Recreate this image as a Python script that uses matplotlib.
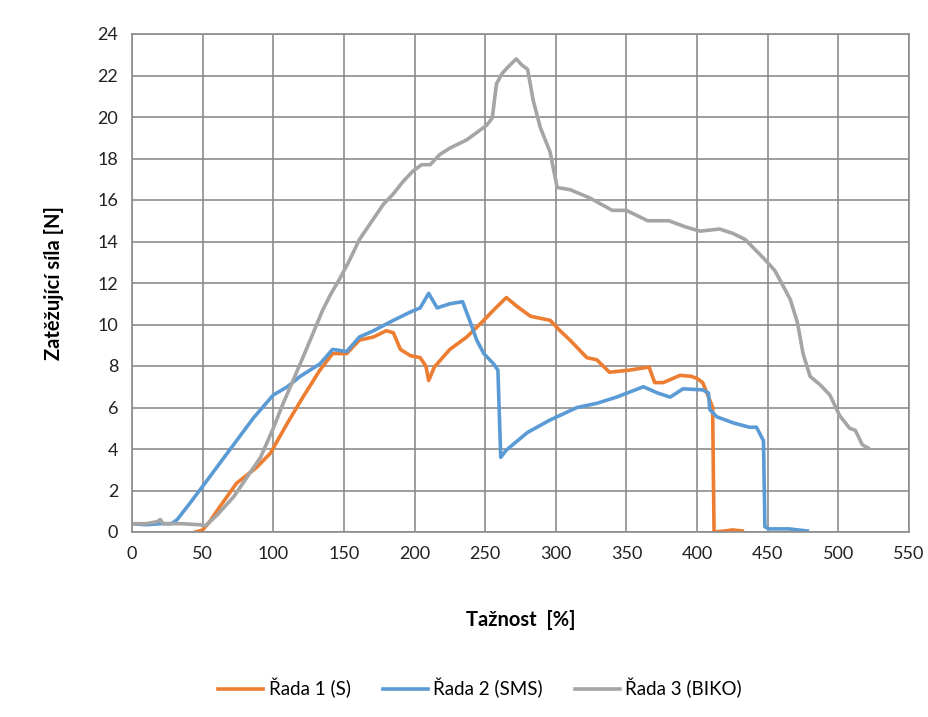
import matplotlib
matplotlib.use("Agg")
import matplotlib.pyplot as plt

plt.rcParams['font.family'] = ['Lato', 'DejaVu Sans']

# Řada 1 (S)
s_x = [45, 50, 55, 62, 74, 88, 98, 110, 121, 133, 142, 152, 161, 171, 180, 185, 190, 197, 204, 208, 210,
       214, 225, 237, 249, 256, 265, 272, 282, 296, 303, 310, 322, 329, 338, 352, 366, 370, 376, 388, 396,
       400, 404, 409, 411, 412, 420, 425, 432]
s_y = [0.0, 0.1, 0.5, 1.2, 2.35, 3.1, 3.8, 5.25, 6.5, 7.8, 8.6, 8.6, 9.25, 9.4, 9.7, 9.6, 8.8, 8.5, 8.4, 8.0, 7.3,
       7.95, 8.8, 9.4, 10.2, 10.7, 11.3, 10.9, 10.4, 10.2, 9.7, 9.25, 8.4, 8.3, 7.7, 7.8, 7.95, 7.2, 7.2, 7.55, 7.5,
       7.4, 7.2, 6.35, 6.0, 0.0, 0.05, 0.1, 0.05]

# Řada 2 (SMS)
sms_x = [0, 10, 20, 28, 32, 40, 50, 62, 74, 86, 100, 110, 119, 133, 142, 152, 161, 171, 185, 197, 204, 210,
         216, 225, 234, 239, 244, 249, 256, 259, 261, 265, 280, 296, 315, 329, 343, 362, 372, 381, 390, 404,
         408, 409, 414, 426, 437, 442, 447, 448, 451, 465, 478]
sms_y = [0.4, 0.35, 0.4, 0.4, 0.6, 1.3, 2.2, 3.3, 4.4, 5.5, 6.6, 7.0, 7.5, 8.1, 8.8, 8.7, 9.4, 9.7, 10.2, 10.6, 10.8, 11.5,
         10.8, 11.0, 11.1, 10.2, 9.25, 8.6, 8.1, 7.8, 3.6, 3.95, 4.8, 5.4, 6.0, 6.2, 6.5, 7.0, 6.7, 6.5, 6.9, 6.85,
         6.7, 5.9, 5.55, 5.25, 5.05, 5.05, 4.4, 0.25, 0.15, 0.15, 0.05]

# Řada 3 (BIKO)
biko_x = [0, 10, 18, 20, 22, 35, 48, 52, 60, 72, 80, 91, 100, 107, 114, 124, 135, 141, 147, 154, 161, 170,
          178, 185, 192, 199, 205, 211, 218, 225, 237, 245, 251, 255, 258, 262, 266, 272, 276, 280, 284, 289,
          296, 298, 301, 310, 324, 340, 350, 365, 380, 392, 402, 416, 425, 434, 447, 455, 459, 466, 471, 475,
          480, 487, 494, 501, 508, 512, 517, 521]
biko_y = [0.4, 0.4, 0.5, 0.6, 0.4, 0.4, 0.35, 0.3, 0.8, 1.7, 2.5, 3.6, 5.0, 6.2, 7.3, 8.9, 10.7, 11.5, 12.2, 13.1, 14.1, 15.0,
          15.8, 16.3, 16.9, 17.4, 17.7, 17.7, 18.2, 18.5, 18.9, 19.3, 19.6, 19.95, 21.6, 22.1, 22.4, 22.8, 22.5, 22.3, 20.8, 19.5,
          18.3, 17.6, 16.6, 16.5, 16.1, 15.5, 15.5, 15.0, 15.0, 14.7, 14.5, 14.6, 14.4, 14.1, 13.2, 12.6, 12.1, 11.2, 10.1, 8.6,
          7.5, 7.1, 6.6, 5.6, 5.0, 4.9, 4.2, 4.05]

x_ticks = list(range(0, 551, 50))
y_ticks = list(range(0, 25, 2))

fig = plt.figure(figsize=(9.29, 7.17), dpi=100)
ax = fig.add_axes([132/929, 1 - 532/717, (909-132)/929, (532-34)/717])

ax.plot(s_x, s_y, color='#ED7D31', lw=2.6, label='Řada 1 (S)')
ax.plot(sms_x, sms_y, color='#5B9BD5', lw=2.6, label='Řada 2 (SMS)')
ax.plot(biko_x, biko_y, color='#A5A5A5', lw=2.6, label='Řada 3 (BIKO)')

ax.set_xlim(0, 550)
ax.set_ylim(0, 24)
ax.set_xticks(x_ticks)
ax.set_yticks(y_ticks)
ax.grid(True, color='#8C8C8C', lw=1.2)
ax.set_axisbelow(True)
for sp in ax.spines.values():
    sp.set_color('#8C8C8C')
    sp.set_linewidth(1.2)
ax.tick_params(length=0, labelsize=13, colors='#222222', pad=10)

ax.set_xlabel('Tažnost  [%]', fontsize=14.5, fontweight='bold', labelpad=35)
ax.set_ylabel('Zatěžující síla [N]', fontsize=14.5, fontweight='bold', labelpad=24)

fig.legend(loc='center', bbox_to_anchor=(480/929, 1 - 688/717), ncol=3, frameon=False,
           fontsize=13.5, handlelength=2.4, columnspacing=1.7, handletextpad=0.3)

fig.savefig('out.png', dpi=100, facecolor='white')
